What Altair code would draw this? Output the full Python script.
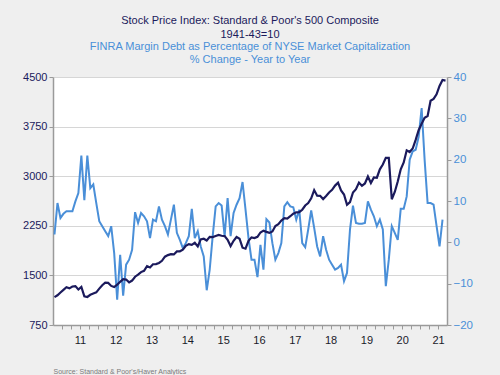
import altair as alt
import pandas as pd

# S&P 500 composite, monthly (Oct 2010 - Sep 2021)
sp500 = [
    1172, 1199, 1242,
    1282, 1321, 1304, 1332, 1338, 1287, 1325, 1185, 1174, 1207, 1226, 1243,
    1300, 1352, 1389, 1386, 1341, 1323, 1359, 1403, 1443, 1437, 1394, 1422,
    1480, 1512, 1550, 1570, 1640, 1619, 1669, 1671, 1688, 1721, 1783, 1807,
    1822, 1817, 1863, 1864, 1889, 1947, 1973, 1962, 1993, 1937, 2044, 2054,
    2028, 2082, 2080, 2095, 2111, 2099, 2094, 2039, 1944, 2024, 2080, 2054,
    1919, 1904, 2022, 2075, 2065, 2084, 2149, 2177, 2158, 2143, 2165, 2247,
    2275, 2329, 2366, 2359, 2395, 2434, 2454, 2456, 2493, 2557, 2593, 2665,
    2790, 2705, 2703, 2654, 2701, 2754, 2794, 2858, 2902, 2785, 2723, 2567,
    2607, 2754, 2804, 2903, 2854, 2890, 2996, 2897, 2982, 2977, 3104, 3176,
    3278, 3278, 2652, 2762, 2920, 3105, 3208, 3391, 3365, 3418, 3549, 3695,
    3794, 3883, 3910, 4141, 4168, 4238, 4364, 4454, 4445,
]

# FINRA margin debt as % of NYSE market cap, % change y/y (Oct 2010 - Aug 2021)
margin_yoy = [
    1.9, 9.5, 5.9,
    6.9, 7.5, 7.5, 7.5, 9.9, 11.9, 21.0, 10.2, 21.0, 13.1, 14.0, 9.5,
    5.1, 3.9, 2.7, 1.5, 3.9, -2.6, -13.9, -3.0, -12.9, -5.4, -4.2, -1.8,
    7.3, 4.7, 7.1, 6.3, 5.1, 1.0, 5.5, 5.1, 8.7, 5.5, 3.9, 1.9,
    5.5, 9.1, 2.3, 0.6, -1.4, -0.2, 1.5, 8.1, 1.0, 2.7, -1.0, -3.4,
    -11.6, -6.6, 1.5, 8.7, 9.5, 8.9, 1.5, 10.7, 1.5, 7.1, 9.1, 10.7,
    14.6, 7.9, 1.0, -4.2, -4.2, -8.4, -0.6, -6.6, 5.6, 4.8, -0.2, -4.2,
    -2.6, -0.2, 8.7, 9.7, 8.7, 8.5, 5.5, 7.9, -0.2, -1.2, 3.1, 7.7,
    3.5, -1.0, -3.4, 1.5, -1.8, -4.2, -5.4, -6.6, -6.2, -5.4, -9.4, -7.4,
    3.1, 8.9, 4.7, 4.5, 4.5, 4.7, 9.9, 7.9, 6.3, 3.9, 5.5, 3.1,
    -10.6, -4.2, 3.9, 2.3, 0.6, 8.1, 8.1, 11.1, 20.0, 22.0, 22.4, 25.5,
    32.5, 20.0, 9.5, 9.5, 9.1, 4.0, -1.0, 5.5,
]

left_ticks = [750, 1500, 2250, 3000, 3750, 4500]
right_ticks = [-20, -10, 0, 10, 20, 30, 40]
quarter_ticks = [2011 + 0.25 * i for i in range(43)]

months = pd.date_range("2010-10-01", periods=len(sp500), freq="MS")
t = [d.year + (d.month - 0.5) / 12 for d in months]
df_sp = pd.DataFrame({"t": t, "value": sp500})
df_mg = pd.DataFrame({"t": t[: len(margin_yoy)], "value": margin_yoy})

NAVY = "#1b1a5c"
BLUE = "#4a8fd8"
AXIS_GRAY = "#9a9a9a"
FONT = "Liberation Sans"

x_enc = alt.X(
    "t:Q",
    scale=alt.Scale(domain=[2010.75, 2021.75], nice=False, zero=False),
    axis=alt.Axis(
        values=quarter_ticks,
        labelExpr="datum.value % 1 == 0.5 ? substring('' + floor(datum.value), 2, 4) : ''",
        labelOverlap=False,
        labelFlush=False,
        labelColor="#1a1a2a",
        labelFontSize=11,
        labelPadding=5,
        tickSize=4,
        tickColor=AXIS_GRAY,
        domainColor=AXIS_GRAY,
        domainWidth=1.5,
        grid=False,
        title="Source:  Standard & Poor's/Haver Analytics",
        titleAnchor="start",
        titleAlign="left",
        titleX=0,
        titleY=46,
        titleFontSize=7,
        titleFontWeight="normal",
        titleColor="#7a7a7a",
        titleBaseline="middle",
    ),
)

margin_line = alt.Chart(df_mg).mark_line(color=BLUE, strokeWidth=2).encode(
    x=x_enc,
    y=alt.Y(
        "value:Q",
        scale=alt.Scale(domain=[-20, 40], nice=False, zero=False),
        axis=alt.Axis(
            orient="right",
            values=right_ticks,
            format="d",
            title=None,
            grid=False,
            labelColor=BLUE,
            labelFontSize=11.5,
            labelPadding=2,
            tickSize=4,
            tickColor=AXIS_GRAY,
            domainColor=AXIS_GRAY,
            domainWidth=1.5,
        ),
    ),
)

sp_line = alt.Chart(df_sp).mark_line(color=NAVY, strokeWidth=2.2).encode(
    x=x_enc,
    y=alt.Y(
        "value:Q",
        scale=alt.Scale(domain=[750, 4500], nice=False, zero=False),
        axis=alt.Axis(
            orient="left",
            values=left_ticks,
            format="d",
            title=None,
            grid=True,
            gridColor="#d6d6d6",
            gridWidth=1,
            labelColor=NAVY,
            labelFontSize=11,
            labelPadding=2,
            tickSize=4,
            tickColor=AXIS_GRAY,
            domainColor=AXIS_GRAY,
            domainWidth=1.5,
        ),
    ),
)

chart = (
    alt.layer(margin_line, sp_line)
    .resolve_scale(y="independent")
    .properties(
        width=394,
        height=248,
        autosize=alt.AutoSizeParams(type="none"),
        padding={"left": 53, "top": 77, "right": 53, "bottom": 50},
        background="#efefef",
        title=alt.TitleParams(
            text=["Stock Price Index: Standard & Poor's 500 Composite", "1941-43=10"],
            subtitle=["FINRA Margin Debt as Percentage of NYSE Market Capitalization",
                      "% Change - Year to Year"],
            anchor="middle",
            font=FONT,
            subtitleFont=FONT,
            fontSize=11,
            subtitleFontSize=11,
            fontWeight="normal",
            subtitleFontWeight="normal",
            color=NAVY,
            subtitleColor=BLUE,
            lineHeight=14,
            subtitleLineHeight=13.5,
            subtitlePadding=1,
            offset=6,
        ),
    )
    .configure_view(stroke=None, fill="white")
    .configure_axis(labelFont=FONT, titleFont=FONT)
)

chart.save("out.html", embed_options={"renderer": "svg", "actions": False})
